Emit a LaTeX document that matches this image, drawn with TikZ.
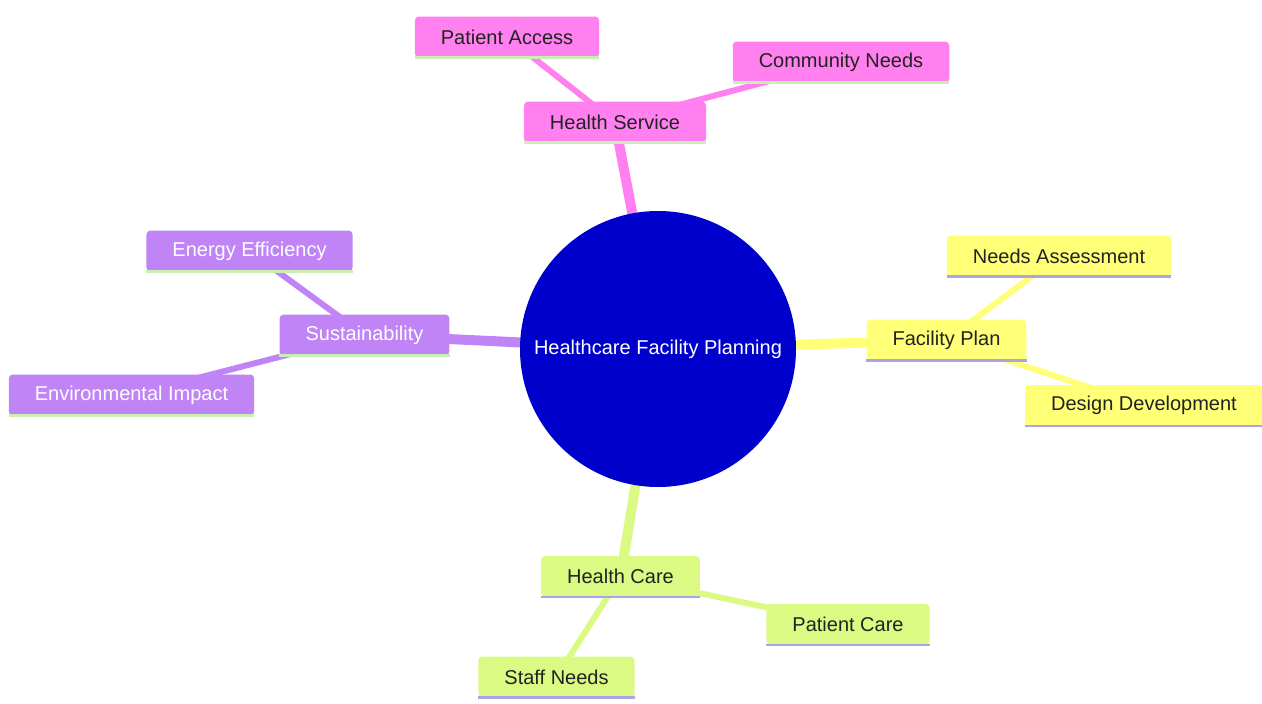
\documentclass[tikz,border=0pt]{standalone}
\usepackage{fontspec}
\setmainfont{Liberation Sans}
\usetikzlibrary{backgrounds}

\definecolor{rootblue}{HTML}{0000CD}
\definecolor{pinkc}{HTML}{FF80EE}
\definecolor{yellowc}{HTML}{FFFF78}
\definecolor{purplec}{HTML}{C084F6}
\definecolor{greenc}{HTML}{DAFA84}
\definecolor{lineg}{HTML}{C8F0B4}
\definecolor{linel}{HTML}{AAA4E4}
\definecolor{darktext}{HTML}{222222}

\begin{document}
\begin{tikzpicture}[x=1pt, y=-1pt,
  box/.style={rectangle, rounded corners=4pt, minimum height=41pt, inner xsep=26pt, inner ysep=0pt,
    font=\fontsize{20}{24}\selectfont, text=darktext},
  boxpink/.style={box, fill=pinkc, append after command={(\tikzlastnode.south west) edge[line width=2.5pt, draw=lineg] (\tikzlastnode.south east)}},
  boxyellow/.style={box, fill=yellowc, append after command={(\tikzlastnode.south west) edge[line width=2.5pt, draw=linel] (\tikzlastnode.south east)}},
  boxpurple/.style={box, fill=purplec, text=white, append after command={(\tikzlastnode.south west) edge[line width=2.5pt, draw=lineg] (\tikzlastnode.south east)}},
  boxgreen/.style={box, fill=greenc, append after command={(\tikzlastnode.south west) edge[line width=2.5pt, draw=linel] (\tikzlastnode.south east)}},
  trunk/.style={line width=10pt},
  twig/.style={line width=6pt}]
\useasboundingbox (0,0) rectangle (1262,704);

\node[circle, fill=rootblue, minimum size=276pt, inner sep=0pt, text=white, font=\fontsize{20}{24}\selectfont] (root) at (658,349) {Healthcare Facility Planning};

\node[boxpink] (hs) at (615,122) {Health Service};
\node[boxpink] (pa) at (507,37) {Patient Access};
\node[boxpink] (cn) at (841,62) {Community Needs};

\node[boxyellow] (fp) at (946.5,340) {Facility Plan};
\node[boxyellow] (na) at (1059,256) {Needs Assessment};
\node[boxyellow] (dd) at (1144,405.5) {Design Development};

\node[boxpurple] (su) at (364.5,335) {Sustainability};
\node[boxpurple] (ee) at (249.5,251) {Energy Efficiency};
\node[boxpurple] (ei) at (131.5,395) {Environmental Impact};

\node[boxgreen] (hc) at (620.5,576.5) {Health Care};
\node[boxgreen] (pc) at (848,624.5) {Patient Care};
\node[boxgreen] (sn) at (556.5,677) {Staff Needs};

\begin{scope}[on background layer]
\path[draw,trunk,pinkc] (root.center) -- (hs.center);
\path[draw,twig,pinkc] (hs.center) -- (pa.center);
\path[draw,twig,pinkc] (hs.center) -- (cn.center);
\path[draw,trunk,yellowc] (root.center) -- (fp.center);
\path[draw,twig,yellowc] (fp.center) -- (na.center);
\path[draw,twig,yellowc] (fp.center) -- (dd.center);
\path[draw,trunk,purplec] (root.center) -- (su.center);
\path[draw,twig,purplec] (su.center) -- (ee.center);
\path[draw,twig,purplec] (su.center) -- (ei.center);
\path[draw,trunk,greenc] (root.center) -- (hc.center);
\path[draw,twig,greenc] (hc.center) -- (pc.center);
\path[draw,twig,greenc] (hc.center) -- (sn.center);
\end{scope}
\end{tikzpicture}
\end{document}
